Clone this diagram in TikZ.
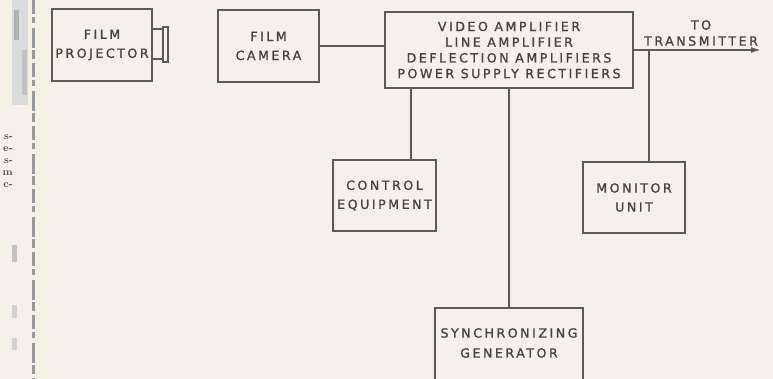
\documentclass[tikz,border=0pt]{standalone}
\usepackage{fontspec}
\newfontfamily\lettering[LetterSpace=20,FakeBold=1.2]{DejaVu Sans}
\usetikzlibrary{arrows.meta}
\definecolor{paper}{HTML}{F6F1E6}
\definecolor{ink}{HTML}{625850}
\definecolor{txt}{HTML}{4A423C}
\begin{document}
\begin{tikzpicture}[x=1pt,y=-1pt,
  blk/.style={draw=ink, line width=1.5pt, inner sep=0pt, text=txt,
    font=\lettering\fontsize{12.6}{19}\selectfont, align=center},
  lbl/.style={inner sep=0pt, text=txt, font=\lettering\fontsize{12.6}{19}\selectfont, align=center},
  wire/.style={draw=ink, line width=1.5pt}]
\fill[paper] (0,0) rectangle (773,379);
\useasboundingbox (0,0) rectangle (773,379);

% scan edge at the left
\fill[black!14] (12,0) rectangle (28,105);
\fill[black!30] (14,10) rectangle (19,40);
\fill[black!24] (22,50) rectangle (27,95);
\draw[line width=3pt, draw=black!40, dash pattern=on 14pt off 3pt on 6pt off 5pt on 20pt off 2pt on 9pt off 4pt]
  (33,0) -- (33,379);
\node[anchor=east, inner sep=0pt, align=right, text=black!70,
  font=\bfseries\fontsize{10.5}{12}\selectfont] (frag) at (13,161) {s-\\e-\\s-\\m\\c-};
\fill[black!24] (12,245) rectangle (17,262);
\fill[black!18] (12,305) rectangle (17,318);
\fill[black!18] (12,338) rectangle (17,350);

% blocks
\node[blk, minimum width=100pt, minimum height=72pt] (proj) at (102,45) {FILM\\PROJECTOR};
\draw[wire] (152,29) rectangle (163,59);
\draw[wire] (163,27) rectangle (168,62);

\node[blk, minimum width=101pt, minimum height=72pt] (cam) at (268.5,46) {FILM\\CAMERA};

\node[blk, minimum width=248pt, minimum height=76pt,
  font=\lettering\fontsize{12.6}{15.7}\selectfont] (main) at (509,50)
  {VIDEO AMPLIFIER\\LINE AMPLIFIER\\DEFLECTION AMPLIFIERS\\POWER SUPPLY RECTIFIERS};

\node[blk, minimum width=103pt, minimum height=71pt] (ctrl) at (384.5,195.5) {CONTROL\\EQUIPMENT};
\node[blk, minimum width=102pt, minimum height=71pt] (mon) at (634,197.5) {MONITOR\\UNIT};

\node[blk, minimum width=148pt, minimum height=84pt] (sync) at (509,350) {};
\node[lbl, font=\lettering\fontsize{12.6}{20}\selectfont] (synctext) at (509,343) {SYNCHRONIZING\\GENERATOR};

\node[lbl, font=\lettering\fontsize{12.6}{16}\selectfont] (totx) at (701,33) {TO\\TRANSMITTER};

% connectors
\coordinate (txend) at (761,50);
\coordinate (ctrlx) at (411,0);
\coordinate (monx) at (649,0);
\draw[wire] (cam.east) -- (cam.east -| main.west);
\draw[wire] (main.south -| ctrlx) -- (ctrl.north -| ctrlx);
\draw[wire] (main.south) -- (main.south |- sync.north);
\draw[wire, -{Latex[length=10pt,width=6pt]}] (main.east) -- (txend);
\draw[wire] (main.east -| monx) -- (mon.north -| monx);
\end{tikzpicture}
\end{document}
